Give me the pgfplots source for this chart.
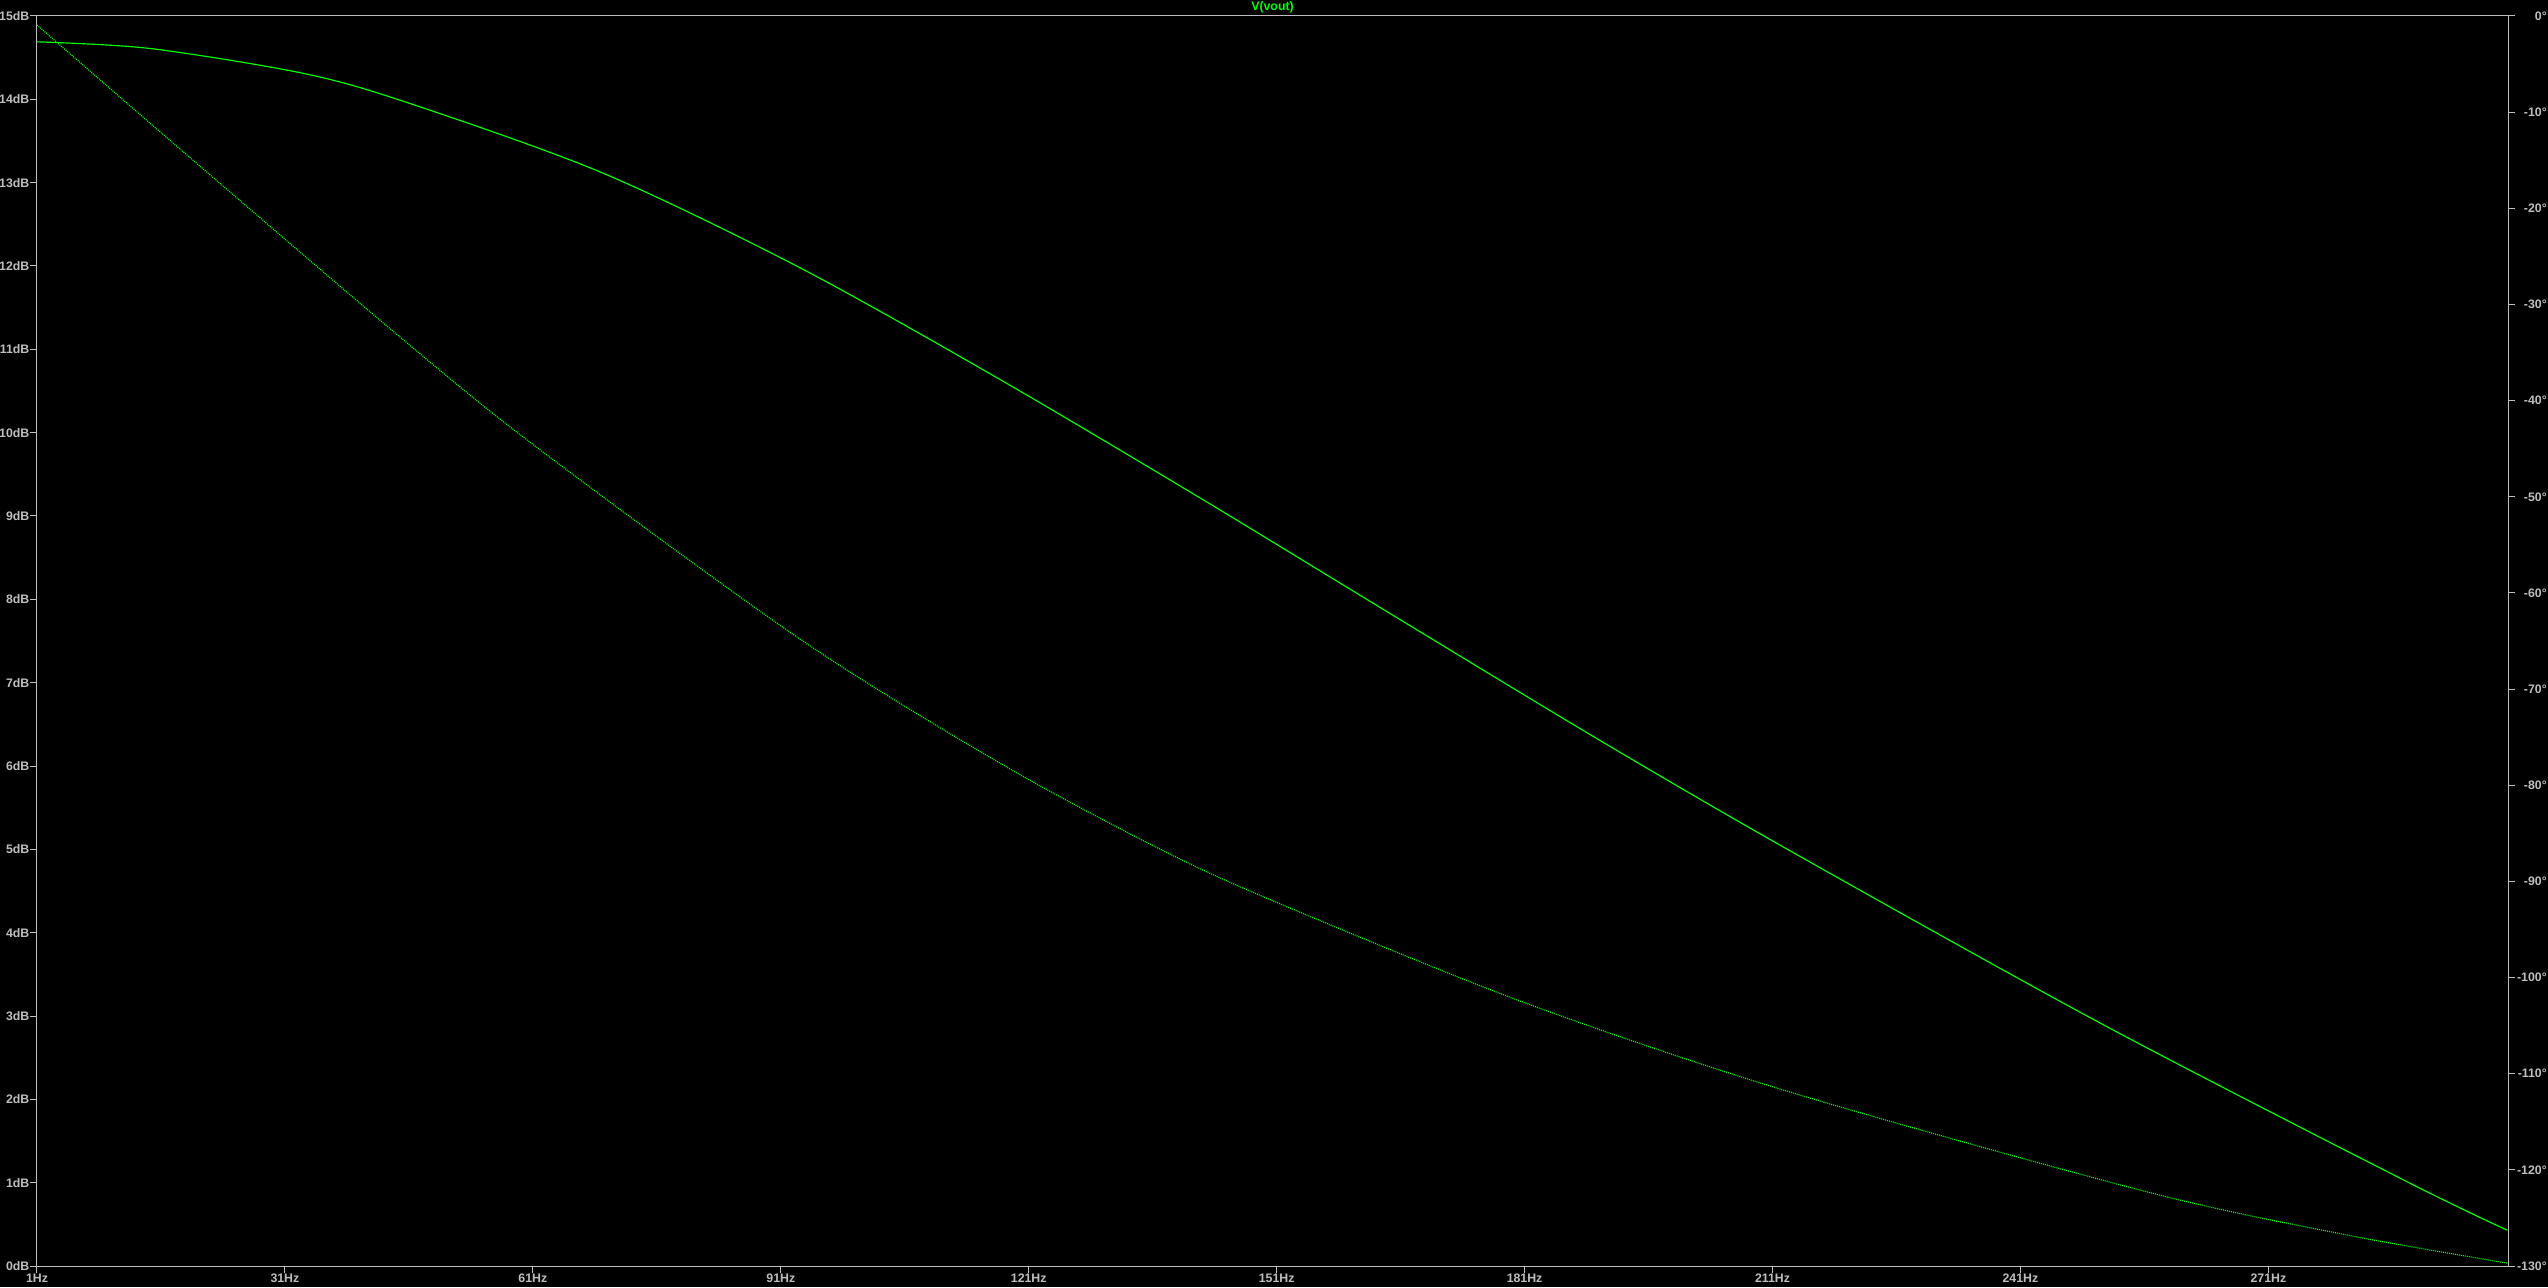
\documentclass[border=0pt]{standalone}
\usepackage{fontspec}
\setmainfont{Liberation Sans}
\usepackage{pgfplots}
\pgfplotsset{compat=1.18}
\definecolor{ltgray}{RGB}{190,190,190}
\definecolor{ltgreen}{RGB}{0,255,0}

\pgfplotsset{
  every axis title shift=0pt,
  ltbase/.style={
    scale only axis, width=741.3pt, height=375pt,
    at={(0,0)}, anchor=south west,
    xmin=1, xmax=300,
    axis line style={ltgray, line width=0.3pt},
    major tick style={ltgray, line width=0.3pt},
    tick align=outside, major tick length=2.1pt,
    tick label style={font=\fontsize{3.7}{4.4}\selectfont\bfseries, text=ltgray, inner sep=0pt},
    /pgf/number format/assume math mode=true,
  }
}

\begin{document}
\begin{tikzpicture}
\path[use as bounding box, fill=black] (-11.1pt,-6.3pt) rectangle (753.3pt,379.8pt);

% magnitude, dB (solid)
\begin{axis}[ltbase,
    ymin=0, ymax=15,
    xtick pos=bottom, ytick pos=left,
    xtick={1,31,61,91,121,151,181,211,241,271},
    xticklabels={1Hz,31Hz,61Hz,91Hz,121Hz,151Hz,181Hz,211Hz,241Hz,271Hz},
    ytick={0,1,...,15},
    yticklabels={0dB,1dB,2dB,3dB,4dB,5dB,6dB,7dB,8dB,9dB,10dB,11dB,12dB,13dB,14dB,15dB},
    title={V(vout)},
    title style={font=\fontsize{3.7}{4.4}\selectfont\bfseries, text=ltgreen,
      at={(0.5,1)}, anchor=base, yshift=1.5pt, inner sep=0pt},
]
\addplot[ltgreen, line width=0.35pt, smooth] coordinates {
  (1.0,14.69) (14.67,14.61) (32.81,14.32) (44.91,13.99)
  (69.11,13.13) (93.30,11.98) (117.49,10.64) (141.68,9.22) (165.88,7.76)
  (190.07,6.31) (212.81,5.00) (250.56,2.92) (287.21,1.04) (299.9,0.43)
};
\end{axis}

% phase, degrees (dotted)
\begin{axis}[ltbase,
    ymin=-130, ymax=0,
    hide x axis,
    axis y line*=right, ytick pos=right,
    ytick={-130,-120,...,0},
    yticklabels={-130°,-120°,-110°,-100°,-90°,-80°,-70°,-60°,-50°,-40°,-30°,-20°,-10°,0°},
    yticklabel style={text width=9.3pt, align=right},
]
\addplot[ltgreen, line width=0.35pt, smooth, dash pattern=on 0.3pt off 0.3pt] coordinates {
  (1.0,-0.94) (18.30,-13.83) (44.91,-33.38) (61.73,-45.03)
  (93.30,-64.79) (117.49,-77.69) (136.85,-86.63) (150.88,-92.14) (180.76,-102.54)
  (212.69,-111.80) (256.36,-122.30) (280.56,-126.78) (299.9,-129.69)
};
\end{axis}
\end{tikzpicture}
\end{document}
